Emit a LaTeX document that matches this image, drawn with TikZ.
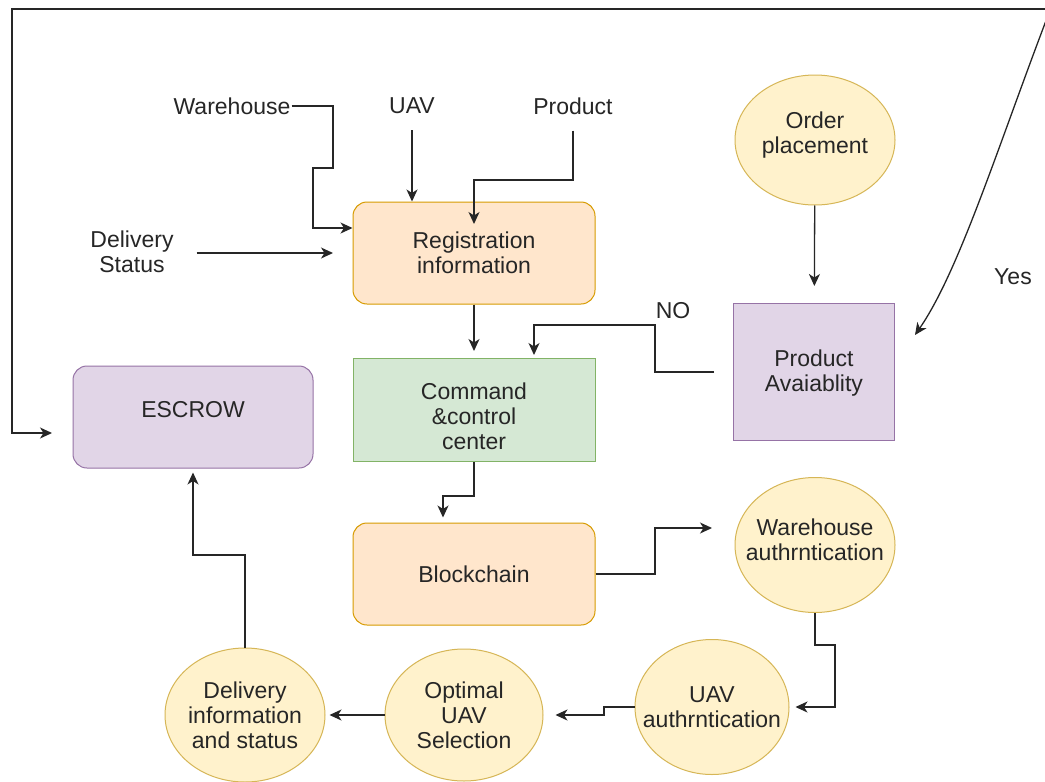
\documentclass[tikz,border=0pt]{standalone}
\usepackage{fontspec}
\setmainfont{Liberation Sans}
\usetikzlibrary{arrows.meta,positioning,shapes.geometric}
\definecolor{peachfill}{HTML}{FFE6CC}
\definecolor{peachline}{HTML}{D79B00}
\definecolor{greenfill}{HTML}{D5E8D4}
\definecolor{greenline}{HTML}{82B366}
\definecolor{lilacfill}{HTML}{E1D5E7}
\definecolor{lilacline}{HTML}{9673A6}
\definecolor{sandfill}{HTML}{FFF2CC}
\definecolor{sandline}{HTML}{D6B656}
% shift the printed text without changing the node size
\newcommand{\liftby}[2]{\raisebox{#1}[\height][\depth]{\begin{tabular}{@{}c@{}}#2\end{tabular}}}
\tikzset{
    every node/.style={font=\fontsize{23}{25}\selectfont, align=center, text=black!85},
    peachbox/.style={draw=peachline, fill=peachfill, line width=1pt, rounded corners=14pt,
        minimum width=242pt, minimum height=102pt},
    greenbox/.style={draw=greenline, fill=greenfill, line width=1pt,
        minimum width=242pt, minimum height=103pt},
    lilacbox/.style={draw=lilacline, fill=lilacfill, line width=1pt},
    sandball/.style={ellipse, draw=sandline, fill=sandfill, line width=1pt, inner sep=0pt, inner xsep=-16pt},
    tag/.style={inner sep=1pt},
    arr/.style={-{Stealth[length=12pt,width=11pt,inset=3.5pt]}, line width=1.3pt, black!85}
}

\begin{document}
\begin{tikzpicture}[x=1pt,y=-1pt]
                                \useasboundingbox (0,0) rectangle (1045,782);
                                \clip (0,0) rectangle (1045,782);
                                \fill[white] (0,0) rectangle (1045,782);
                                % boxes
                                \node[peachbox] (reg) at (474,253) {Registration\\information};
                                \node[greenbox] (ccc) at (474,410) {\liftby{-9pt}{Command\\\&control\\center}};
                                \node[peachbox] (bc) at (474,574) {Blockchain};
                                \node[lilacbox, rounded corners=14pt, minimum width=240pt, minimum height=102pt] (esc) at (193,417) {\liftby{5pt}{ESCROW}};
                                \node[lilacbox, minimum width=161pt, minimum height=137pt] (pa) at (814,372) {\liftby{-2pt}{Product\\Avaiablity}};
                                % ellipses
                                \node[sandball, minimum width=160pt, minimum height=130pt] (op) at (815,140) {\liftby{4pt}{Order\\placement}};
                                \node[sandball, minimum width=160pt, minimum height=135pt] (wa) at (815,545) {\liftby{2pt}{Warehouse\\authrntication}};
                                \node[sandball, minimum width=154pt, minimum height=135pt] (ua) at (712,707) {UAV\\authrntication};
                                \node[sandball, minimum width=158pt, minimum height=132pt] (os) at (464,715) {Optimal\\UAV\\Selection};
                                \node[sandball, minimum width=160pt, minimum height=134pt] (di) at (245,715) {Delivery\\information\\and status};
                                % plain labels
                                \node[tag] (twh) at (232,106) {Warehouse};
                                \node[tag] (tuav) at (412,106) {UAV};
                                \node[tag] (tprod) at (573,106) {Product};
                                \node[tag] (tds) at (132,252) {Delivery\\Status};
                                \node[tag] (tno) at (673,311) {NO};
                                \node[tag] (tyes) at (1013,277) {Yes};
                                % free ends
                                \coordinate (dsend) at (333,253);
                                \coordinate (waend) at (712,528);
                                \coordinate (escend) at (52,433);
                                \coordinate (yesend) at (915,335);
                                \coordinate (topright) at (1060,9);
                                \coordinate (yesstart) at (1052,5);
                                % connectors
                                \draw[arr] (twh.east) -| (333,168) -| (313,228) -- (reg.west |- 0,228);
                                \draw[arr, shorten <=15pt] (tuav.south) -- (reg.north -| tuav.south);
                                \draw[arr, shorten <=15pt] (tprod.south) |- (474,180) -- (474,224);
                                \draw[arr, shorten <=22pt] (tds.east |- dsend) -- (dsend);
                                \draw[arr, shorten >=7pt] (reg) -- (ccc);
                                \draw[arr, shorten <=19pt, shorten >=3pt] (pa.west) -| (655,325) -| ([xshift=60pt]ccc.north);
                                \draw[arr, shorten >=17pt] (op) -- (pa);
                                \draw[arr, shorten >=5pt] (ccc.south) -- (474,496) -| ([xshift=-31pt]bc.north);
                                \draw[arr] (bc.east) -| (655,528) -- (waend);
                                \draw[arr, shorten >=6pt] (wa.south) |- (835,645) |- (ua.east);
                                \draw[arr, shorten >=12pt] (ua.west) -| (604,715) -- (os.east);
                                \draw[arr, shorten >=4pt] (os.west) -- (di.east);
                                \draw[arr, shorten >=4pt] (di.north) |- (193,555) -- (esc.south);
                                \draw[arr] (topright) -| (12,433) -- (escend);
                                \draw[arr] (yesstart) .. controls (1000,140) and (960,270) .. (yesend);
                            \end{tikzpicture}
\end{document}
